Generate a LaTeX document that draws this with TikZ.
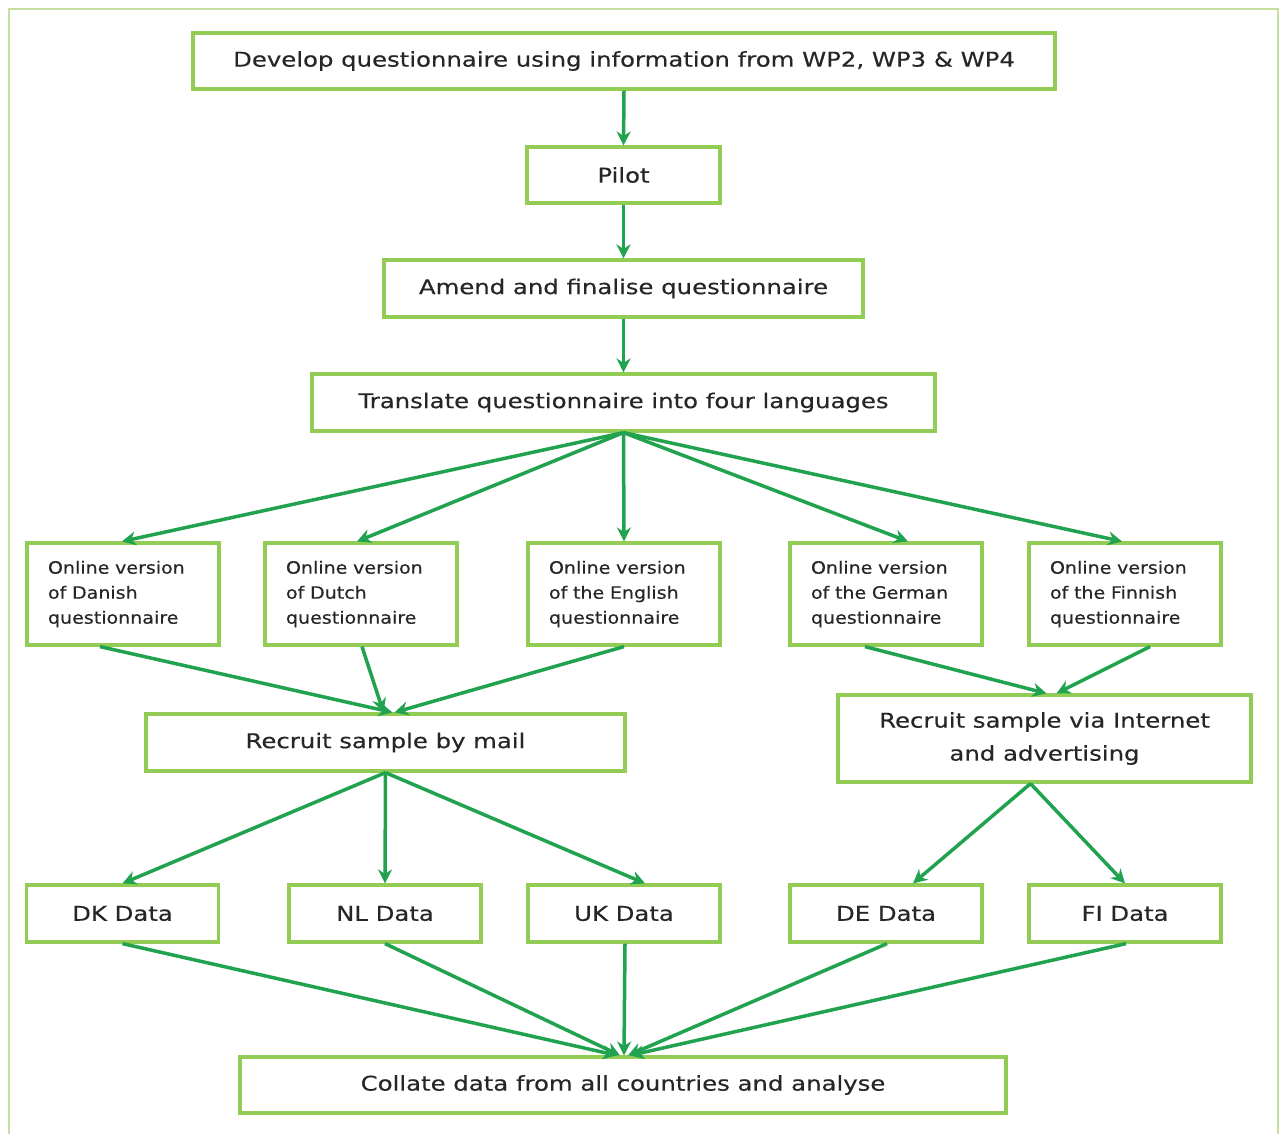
\documentclass[tikz,border=0pt]{standalone}
\usepackage{fontspec}
\setmainfont{DejaVu Sans}[FakeStretch=1.2,FakeBold=0.35]
\newfontfamily\onlinefont{DejaVu Sans}[FakeStretch=1.12,FakeBold=0.3]
\usetikzlibrary{arrows.meta}
\definecolor{boxg}{RGB}{146,204,84}
\definecolor{arrg}{RGB}{32,162,78}
\definecolor{frameg}{RGB}{196,222,160}
\definecolor{txt}{RGB}{38,38,38}
\begin{document}
\begin{tikzpicture}[x=1pt,y=-1pt,
 box/.style={draw=boxg,line width=3.2pt,fill=white,text=txt,inner sep=0pt,align=center,font=\fontsize{20.3}{33}\selectfont},
 obox/.style={box,minimum width=192,minimum height=102,text width=150,align=left,font=\onlinefont\fontsize{17}{25}\selectfont},
 dbox/.style={box,minimum width=192,minimum height=57},
 arr/.style={draw=arrg,line width=3.5pt,-{Stealth[length=14pt,width=14pt]}},
]
\useasboundingbox (0,0) rectangle (1281,1133);
\draw[frameg,line width=2pt] (9,1140) -- (9,9) -- (1278,9) -- (1278,1140);

\node[box,minimum width=862,minimum height=56] (dev) at (624,61) {Develop questionnaire using information from WP2, WP3 \& WP4};
\node[box,minimum width=193,minimum height=56] (pil) at (623.5,175) {Pilot};
\node[box,minimum width=479,minimum height=57] (ame) at (623.5,288.5) {Amend and finalise questionnaire};
\node[box,minimum width=623,minimum height=57] (tra) at (623.5,402.5) {Translate questionnaire into four languages};

\node[obox] (dan) at (123,594) {Online version\\of Danish\\questionnaire};
\node[obox] (dut) at (361,594) {Online version\\of Dutch\\questionnaire};
\node[obox] (eng) at (624,594) {Online version\\of the English\\questionnaire};
\node[obox] (ger) at (886,594) {Online version\\of the German\\questionnaire};
\node[obox] (fin) at (1125,594) {Online version\\of the Finnish\\questionnaire};

\node[box,minimum width=479,minimum height=57] (mail) at (385.5,742.5) {Recruit sample by mail};
\node[box,minimum width=413,minimum height=87] (inet) at (1044.5,738.5) {Recruit sample via Internet\\and advertising};

\node[dbox] (dk) at (122.5,913.5) {DK Data};
\node[dbox] (nl) at (385,913.5) {NL Data};
\node[dbox] (uk) at (624,913.5) {UK Data};
\node[dbox] (de) at (886,913.5) {DE Data};
\node[dbox] (fi) at (1125,913.5) {FI Data};

\node[box,minimum width=766,minimum height=56] (col) at (623,1085) {Collate data from all countries and analyse};

\draw[arr] (dev.south) -- (pil.north);
\draw[arr] (pil.south) -- (ame.north);
\draw[arr] (ame.south) -- (tra.north);

\draw[arr] (tra.south) -- ([xshift=-1]dan.north);
\draw[arr] (tra.south) -- ([xshift=-4]dut.north);
\draw[arr] (tra.south) -- (eng.north);
\draw[arr] (tra.south) -- ([xshift=22]ger.north);
\draw[arr] (tra.south) -- ([xshift=-3]fin.north);

\draw[arr] ([xshift=-23]dan.south) -- ([xshift=7]mail.north);
\draw[arr] ([xshift=1]dut.south) -- ([xshift=-2]mail.north);
\draw[arr] (eng.south) -- ([xshift=9]mail.north);

\draw[arr] ([xshift=-21]ger.south) -- ([xshift=2]inet.north);
\draw[arr] ([xshift=25]fin.south) -- ([xshift=12]inet.north);

\draw[arr] (mail.south) -- (dk.north);
\draw[arr] (mail.south) -- (nl.north);
\draw[arr] (mail.south) -- ([xshift=21]uk.north);

\draw[arr] ([xshift=-14]inet.south) -- ([xshift=27]de.north);
\draw[arr] ([xshift=-14]inet.south) -- (fi.north);

\draw[arr] (dk.south) -- ([xshift=-6]col.north);
\draw[arr] (nl.south) -- ([xshift=-3]col.north);
\draw[arr] ([xshift=1]uk.south) -- ([xshift=1]col.north);
\draw[arr] ([xshift=1]de.south) -- ([xshift=5]col.north);
\draw[arr] ([xshift=1]fi.south) -- ([xshift=7]col.north);
\end{tikzpicture}
\end{document}
